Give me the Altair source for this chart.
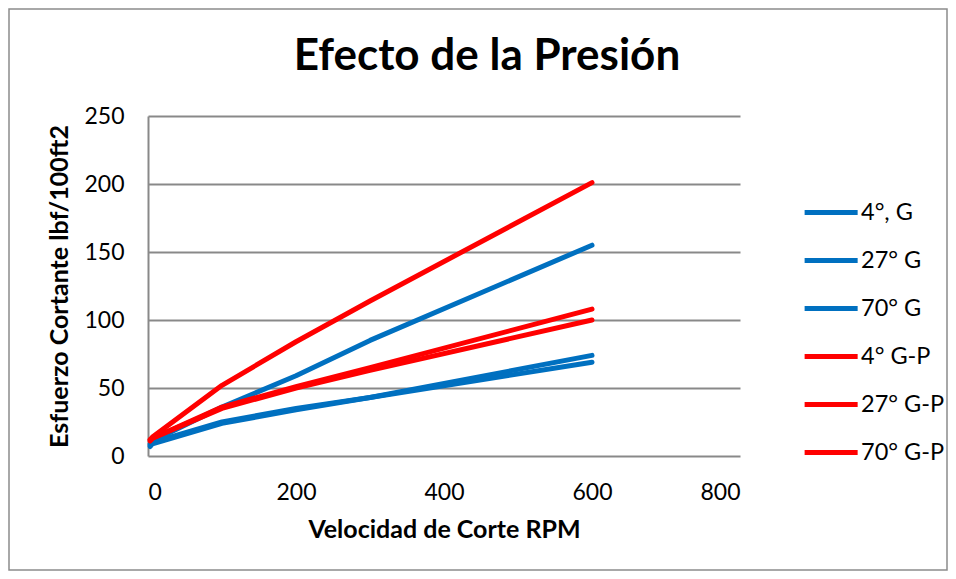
import altair as alt
import pandas as pd

rpm = [3, 6, 100, 200, 300, 600]
series = ["4°, G", "27° G", "70° G", "4° G-P", "27° G-P", "70° G-P"]
values = {
    "4°, G":   [9, 11, 36, 59, 85, 155],
    "27° G":   [8, 10, 25, 35, 43, 74],
    "70° G":   [7, 9, 24, 34, 43, 69],
    "4° G-P":  [12, 14, 52, 84, 114, 201],
    "27° G-P": [12, 13, 36, 51, 65, 108],
    "70° G-P": [11, 13, 35, 50, 63, 100],
}
colors = ["#0070C0", "#0070C0", "#0070C0", "#FF0000", "#FF0000", "#FF0000"]

rows = []
for i, s in enumerate(series):
    for x, y in zip(rpm, values[s]):
        rows.append({"rpm": x, "esf": y, "serie": s, "orden": i})
df = pd.DataFrame(rows)

FONT = "Lato"

lines = alt.Chart(df).mark_line(strokeWidth=5, strokeCap="round", strokeJoin="round").encode(
    x=alt.X("rpm:Q", scale=alt.Scale(domain=[0, 800]),
            axis=alt.Axis(values=[0, 200, 400, 600, 800], title="Velocidad de Corte RPM",
                          grid=False, ticks=False, domain=False, labelPadding=25,
                          titlePadding=13)),
    y=alt.Y("esf:Q", scale=alt.Scale(domain=[0, 250]),
            axis=alt.Axis(values=[0, 50, 100, 150, 200, 250], title="Esfuerzo Cortante lbf/100ft2",
                          grid=True, ticks=False, domain=True, labelPadding=24,
                          titlePadding=11)),
    color=alt.Color("serie:N", scale=alt.Scale(domain=series, range=colors), sort=series,
                    legend=alt.Legend(title=None, orient="none", legendX=672, legendY=76,
                                      symbolType="M-2.03,0H0.97", symbolSize=1250,
                                      symbolStrokeWidth=5, labelFontSize=23.5, labelFont=FONT,
                                      labelColor="#000", rowPadding=16, labelOffset=0,
                                      labelLimit=200)),
    order="orden:Q",
    detail="serie:N",
)

border = alt.Chart(alt.Data(values=[{}])).mark_rect(
    fill=None, stroke="#8c8c8c", strokeWidth=1.5
).encode(
    x=alt.value(-139), x2=alt.value(799), y=alt.value(-107), y2=alt.value(454)
)

chart = alt.layer(border, lines).properties(
    width=592, height=340,
    title=alt.TitleParams("Efecto de la Presión", fontSize=44, font=FONT, fontWeight="bold",
                          color="#000", anchor="middle", offset=-71, dx=43),
    autosize=alt.AutoSizeParams(type="none"),
    padding={"left": 140, "top": 108, "right": 208, "bottom": 115},
).configure_view(stroke=None).configure_axis(
    labelFont=FONT, labelFontSize=23, labelColor="#000",
    titleFont=FONT, titleFontSize=25, titleFontWeight="bold", titleColor="#000",
    gridColor="#898989", gridWidth=2, domainColor="#898989", domainWidth=2,
)

chart.save("out.html", embed_options={"renderer": "svg", "actions": False})
